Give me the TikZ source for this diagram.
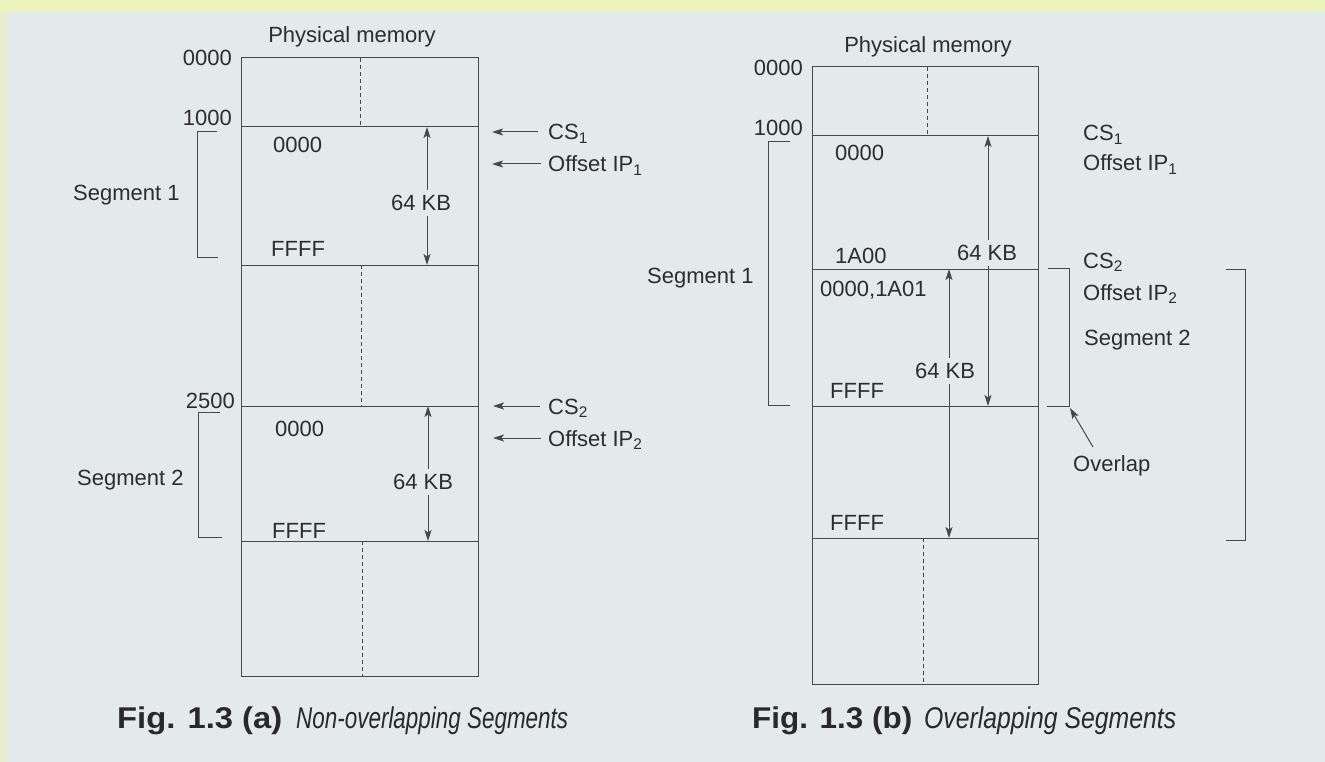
\documentclass[tikz,border=0pt]{standalone}
\usepackage{fontspec}
\setmainfont{Liberation Sans}
\usepackage{graphicx}
\usetikzlibrary{arrows.meta}
\definecolor{paper}{RGB}{228,233,235}
\definecolor{topband}{RGB}{236,244,190}
\definecolor{sideband}{RGB}{232,238,205}
\definecolor{ink}{RGB}{45,45,48}
\definecolor{linec}{RGB}{70,72,75}
\newcommand\fitw[2]{\resizebox{#1}{\height}{#2}}
\begin{document}
\begin{tikzpicture}[x=1pt,y=-1pt,
  lbl/.style={font=\fontsize{22}{26}\selectfont, text=ink, inner sep=0pt},
  klbl/.style={lbl, outer sep=5pt},
  figcaption/.style={font=\fontsize{30}{34}\selectfont, text=ink!90!black, inner sep=0pt, anchor=base west},
  ln/.style={draw=linec, line width=1pt},
  dsh/.style={draw=linec, line width=0.75pt, dash pattern=on 4pt off 3pt},
  arr/.style={ln, -{Stealth[length=11pt,width=7pt,inset=2.5pt]}}]
\useasboundingbox (0,0) rectangle (1325,762);
\fill[paper] (0,0) rectangle (1325,762);
\fill[topband] (0,0) rectangle (1325,11);
\fill[sideband] (0,11) rectangle (7,762);

% ================= Fig (a) =================
\node[lbl, anchor=base] (pma) at (352,43) {Physical memory};
% box
\draw[ln] (241,58) rectangle (478,676);
\draw[ln] (241,127) -- (478,127);
\draw[ln] (241,265) -- (478,265);
\draw[ln] (241,406) -- (478,406);
\draw[ln] (241,541) -- (478,541);
\draw[dsh] (360,58) -- (360,127);
\draw[dsh] (361,265) -- (361,406);
\draw[dsh] (362,541) -- (362,676);
% address labels
\node[lbl, anchor=base east] (a0) at (232,66) {0000};
\node[lbl, anchor=base east] (a1) at (232,126) {1000};
\node[lbl, anchor=base east] (a2) at (235,408) {2500};
% segment brackets
\draw[ln] (217,132) -- (197,132) -- (197,257) -- (218,257);
\draw[ln] (220,412) -- (198,412) -- (198,537) -- (222,537);
\node[lbl, anchor=base west] (sa1) at (73,201) {Segment 1};
\node[lbl, anchor=base west] (sa2) at (77,485) {Segment 2};
% inner labels
\node[lbl, anchor=base west] (ia1) at (273,153) {0000};
\node[lbl, anchor=base west] (ia2) at (271,256) {FFFF};
\node[lbl, anchor=base west] (ia3) at (275,436) {0000};
\node[lbl, anchor=base west] (ia4) at (272,538) {FFFF};
% 64 KB arrows
\node[klbl] (ka1) at (421,203) {64 KB};
\coordinate (ka1t) at (427,127); \coordinate (ka1b) at (427,265);
\draw[arr] (ka1.north -| ka1t) -- (ka1t);
\draw[arr] (ka1.south -| ka1b) -- (ka1b);
\node[klbl] (ka2) at (423,482) {64 KB};
\coordinate (ka2t) at (428,406); \coordinate (ka2b) at (428,541);
\draw[arr] (ka2.north -| ka2t) -- (ka2t);
\draw[arr] (ka2.south -| ka2b) -- (ka2b);
% pointer labels
\node[lbl, anchor=base west] (cs1a) at (548,140) {CS\textsubscript{1}};
\node[lbl, anchor=base west] (ip1a) at (548,172) {Offset IP\textsubscript{1}};
\node[lbl, anchor=base west] (cs2a) at (548,414) {CS\textsubscript{2}};
\node[lbl, anchor=base west] (ip2a) at (548,446) {Offset IP\textsubscript{2}};
\coordinate (cs1at) at (492,132); \coordinate (cs1af) at (538,132);
\coordinate (ip1at) at (492,164); \coordinate (ip1af) at (541,164);
\coordinate (cs2at) at (493,406); \coordinate (cs2af) at (540,406);
\coordinate (ip2at) at (493,438); \coordinate (ip2af) at (541,438);
\draw[arr] (cs1af) -- (cs1at);
\draw[arr] (ip1af) -- (ip1at);
\draw[arr] (cs2af) -- (cs2at);
\draw[arr] (ip2af) -- (ip2at);

% ================= Fig (b) =================
\node[lbl, anchor=base] (pmb) at (928,53) {Physical memory};
\draw[ln] (812,67) rectangle (1038,684);
\draw[ln] (812,136) -- (1038,136);
\draw[ln] (812,269) -- (1038,269);
\draw[ln] (812,406) -- (1038,406);
\draw[ln] (812,538) -- (1038,538);
\draw[dsh] (927,67) -- (927,136);
\draw[dsh] (923,538) -- (923,684);
\node[lbl, anchor=base east] (b0) at (803,76) {0000};
\node[lbl, anchor=base east] (b1) at (803,136) {1000};
% segment 1 bracket
\draw[ln] (790,142) -- (768,142) -- (768,405) -- (790,405);
\node[lbl, anchor=base west] (sb1) at (647,283) {Segment 1};
% inner labels
\node[lbl, anchor=base west] (ib1) at (835,161) {0000};
\node[lbl, anchor=base west] (ib2) at (835,263) {1A00};
\node[lbl, anchor=base west] (ib3) at (820,296) {0000,1A01};
\node[lbl, anchor=base west] (ib4) at (830,398) {FFFF};
\node[lbl, anchor=base west] (ib5) at (830,530) {FFFF};
% 64 KB arrows
\node[klbl] (kb1) at (987,253) {64 KB};
\coordinate (kb1t) at (988,136); \coordinate (kb1b) at (988,406);
\draw[arr] (kb1.north -| kb1t) -- (kb1t);
\draw[arr] (kb1.south -| kb1b) -- (kb1b);
\node[klbl] (kb2) at (945,371) {64 KB};
\coordinate (kb2t) at (949,269); \coordinate (kb2b) at (949,538);
\draw[arr] (kb2.north -| kb2t) -- (kb2t);
\draw[arr] (kb2.south -| kb2b) -- (kb2b);
% right labels
\node[lbl, anchor=base west] (cs1b) at (1083,141) {CS\textsubscript{1}};
\node[lbl, anchor=base west] (ip1b) at (1083,171) {Offset IP\textsubscript{1}};
\node[lbl, anchor=base west] (cs2b) at (1083,268) {CS\textsubscript{2}};
\node[lbl, anchor=base west] (ip2b) at (1083,300) {Offset IP\textsubscript{2}};
\node[lbl, anchor=base west] (sb2) at (1084,345) {Segment 2};
% segment 2 brackets
\draw[ln] (1048,268) -- (1069,268) -- (1069,406) -- (1047,406);
\draw[ln] (1226,269) -- (1245,269) -- (1245,540) -- (1226,540);
% overlap
\node[lbl, anchor=base west] (ovl) at (1073,471) {Overlap};
\coordinate (ovt) at (1070,408); \coordinate (ovf) at (1093,447);
\draw[arr] (ovf) -- (ovt);

% ================= Captions =================
\node[figcaption] (fa) at (117,728) {\fitw{165pt}{\bfseries Fig. 1.3 (a)}};
\node[figcaption] (fat) at (296,728) {\fitw{272pt}{\itshape Non-overlapping Segments}};
\node[figcaption] (fb) at (752,728) {\fitw{160pt}{\bfseries Fig. 1.3 (b)}};
\node[figcaption] (fbt) at (924,728) {\fitw{252pt}{\itshape Overlapping Segments}};
\end{tikzpicture}
\end{document}
